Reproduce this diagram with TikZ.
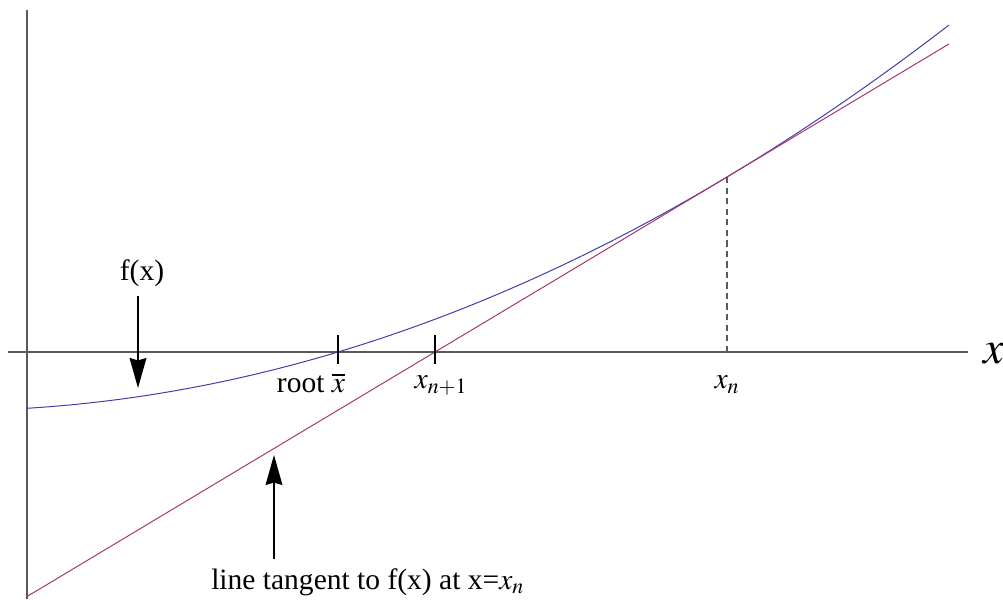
\documentclass[tikz,border=0pt]{standalone}
\usepackage{mathptmx}
\usepackage[no-math]{fontspec}
\setmainfont{Liberation Serif}
\usepackage{tikz}
\usetikzlibrary{arrows.meta}

\definecolor{curvaazul}{RGB}{62,62,168}
\definecolor{tangvermelha}{RGB}{168,52,110}
\definecolor{eixocinza}{RGB}{90,90,90}

\begin{document}
\begin{tikzpicture}[
  eixo/.style={draw=eixocinza,line width=1pt},
  marca/.style={draw=black,line width=0.9pt},
  curva/.style={draw=curvaazul,line width=0.7pt},
  tangente/.style={draw=tangvermelha,line width=0.7pt},
  guia/.style={draw=eixocinza,line width=0.9pt,dash pattern=on 4.5pt off 3pt},
  rotulo/.style={font=\fontsize{21}{24}\selectfont,inner sep=0pt},
  seta/.style={-{Stealth[length=7.5mm,width=4.2mm,inset=0.6mm]},line width=1pt}
]
\useasboundingbox (-0.675,-6.175) rectangle (24.4,8.8);

% eixos
\coordinate (ex0) at (-0.475,0);
\coordinate (ex1) at (23.525,0);
\coordinate (ey0) at (0,-6.175);
\coordinate (ey1) at (0,8.55);
\draw[eixo] (ex0)--(ex1);
\draw[eixo] (ey0)--(ey1);
\node[rotulo,anchor=base west,font=\fontsize{33}{36}\selectfont] (xeixo) at (23.9,-0.275) {$x$};

% f(x) e tangente em x_n
\draw[curva] plot[domain=0:23.05,samples=120]
  (\x,{0.015363*(\x-17.5)^2+0.5993*(\x-17.5)+4.375});
\coordinate (ta) at (0,{4.375-0.5993*17.5});
\coordinate (tb) at (23.05,{4.375+0.5993*5.55});
\draw[tangente] (ta)--(tb);

% raiz, x_{n+1}, x_n
\coordinate (raiz) at (7.775,0);
\coordinate (xprox) at (10.2,0);
\coordinate (xn) at (17.5,0);
\coordinate (toque) at (17.5,4.375);
\draw[marca] ([yshift=0.425cm]raiz)--([yshift=-0.3cm]raiz);
\draw[marca] ([yshift=0.425cm]xprox)--([yshift=-0.3cm]xprox);
\draw[guia] (xn)--(toque);
\node[rotulo,anchor=base] (lraiz) at (7.1,-1.0) {root $\overline{x}$};
\node[rotulo,anchor=base] (lxprox) at (10.35,-0.92) {$x_{n+1}$};
\node[rotulo,anchor=base] (lxn) at (17.5,-0.92) {$x_n$};

% setas
\node[rotulo,anchor=base] (lf) at (2.875,1.8) {f(x)};
\coordinate (fs0) at (2.775,1.4);
\coordinate (fs1) at (2.775,-0.9);
\draw[seta] (fs0)--(fs1);
\node[rotulo,anchor=base west] (ltang) at (4.6,-5.925) {line tangent to f(x) at x=$x_n$};
\coordinate (ts0) at (6.175,-5.175);
\coordinate (ts1) at (6.175,-2.575);
\draw[seta] (ts0)--(ts1);
\end{tikzpicture}
\end{document}
